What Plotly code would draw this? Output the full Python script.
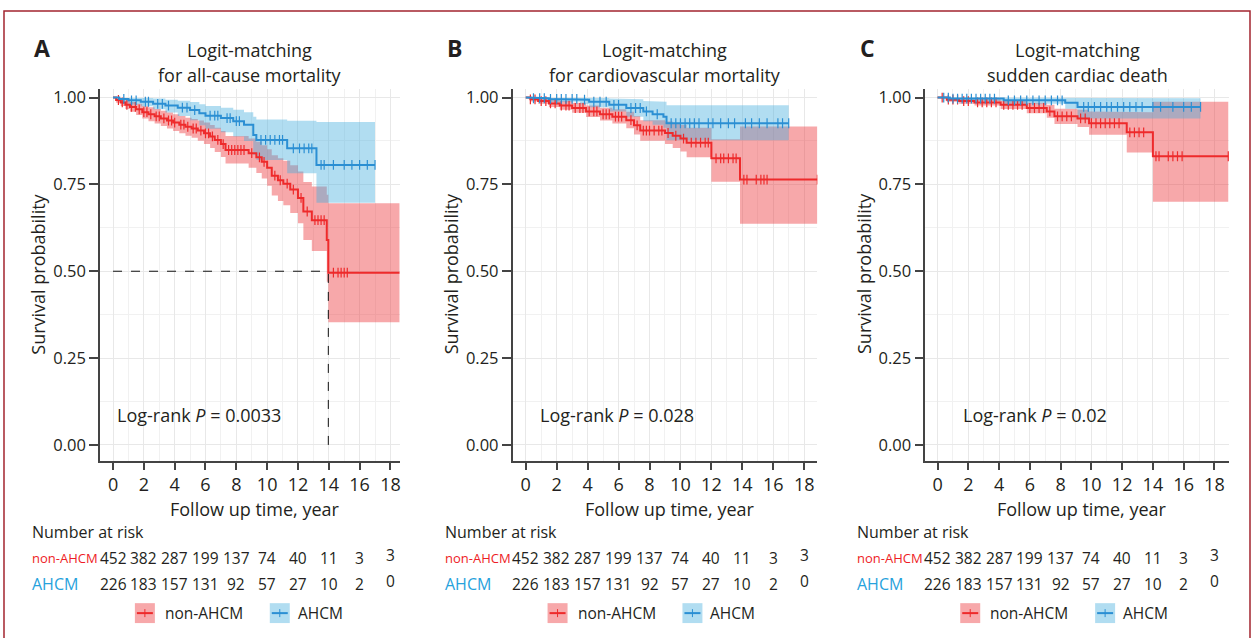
import plotly.graph_objects as go

W, H = 1253, 638

# ---------------- data ----------------
# Panel A: all-cause mortality
a_non_t  = [0, 0.2, 0.5, 0.8, 1.1, 1.5, 1.9, 2.3, 2.7, 3.1, 3.5, 3.9, 4.3, 4.7, 5.1, 5.5, 5.9, 6.3, 6.6, 7.0,
            7.3, 8.8, 9.3, 9.65, 10.0, 10.3, 10.7, 11.05, 11.5, 12.0, 12.35, 12.9, 13.87, 13.97]
a_non_s  = [1.0, 0.993, 0.986, 0.979, 0.973, 0.966, 0.958, 0.952, 0.946, 0.940, 0.934, 0.928, 0.922, 0.916, 0.911,
            0.905, 0.897, 0.888, 0.878, 0.866, 0.849, 0.840, 0.828, 0.815, 0.798, 0.775, 0.762, 0.752, 0.735, 0.711,
            0.672, 0.647, 0.590, 0.496]
a_non_lo = [1.0, 0.985, 0.976, 0.967, 0.959, 0.950, 0.940, 0.932, 0.925, 0.918, 0.911, 0.904, 0.897, 0.890, 0.884,
            0.876, 0.866, 0.855, 0.843, 0.829, 0.810, 0.798, 0.783, 0.767, 0.746, 0.718, 0.702, 0.690, 0.668, 0.638,
            0.590, 0.558, 0.470, 0.353]
a_non_hi = [1.0, 1.0, 0.996, 0.991, 0.987, 0.982, 0.976, 0.972, 0.967, 0.962, 0.957, 0.952, 0.947, 0.942, 0.938,
            0.934, 0.928, 0.921, 0.913, 0.904, 0.889, 0.882, 0.873, 0.863, 0.851, 0.834, 0.825, 0.818, 0.805, 0.787,
            0.757, 0.744, 0.720, 0.696]
a_non_end = 18.6
a_non_cens = [0.35, 0.6, 0.9, 1.2, 1.45, 1.7, 2.0, 2.2, 2.45, 2.8, 3.0, 3.3, 3.6, 3.8, 4.0, 4.4, 4.6, 4.85, 5.2,
              5.4, 5.7, 6.0, 6.2, 6.45, 6.8, 7.15, 7.5, 7.7, 7.9, 8.1, 8.3, 8.5, 9.0, 9.5, 9.8, 10.5, 10.85, 11.3,
              11.7, 12.2, 12.6, 13.1, 13.3, 13.5, 13.7, 14.3, 14.6, 14.8, 15.0, 15.2]

a_ah_t  = [0, 0.4, 1.0, 1.8, 2.6, 3.4, 4.2, 5.0, 5.6, 6.0, 7.0, 7.8, 8.5, 9.1, 9.3, 11.3, 13.2]
a_ah_s  = [1.0, 0.996, 0.992, 0.988, 0.982, 0.977, 0.971, 0.964, 0.955, 0.948, 0.941, 0.932, 0.922, 0.892, 0.878,
           0.854, 0.806]
a_ah_lo = [1.0, 0.988, 0.981, 0.975, 0.966, 0.957, 0.947, 0.935, 0.920, 0.910, 0.900, 0.888, 0.875, 0.835, 0.820,
           0.782, 0.697]
a_ah_hi = [1.0, 1.0, 1.0, 0.999, 0.997, 0.994, 0.991, 0.987, 0.981, 0.976, 0.971, 0.965, 0.958, 0.945, 0.937,
           0.933, 0.930]
a_ah_end = 17.0
a_ah_cens = [0.7, 1.2, 1.5, 2.1, 2.3, 2.9, 3.2, 3.6, 4.5, 4.8, 5.3, 6.3, 6.6, 6.8, 7.4, 7.6, 8.0, 8.2, 9.6, 9.9,
             10.2, 10.5, 10.8, 11.0, 11.7, 12.1, 12.4, 12.7, 12.9, 13.5, 13.7, 14.3, 15.0, 15.5, 16.0, 16.5, 17.0]

# Panel B: cardiovascular mortality
b_non_t  = [0, 0.3, 0.8, 1.5, 2.2, 3.0, 3.9, 4.8, 5.6, 6.5, 7.0, 7.4, 9.0, 9.5, 10.0, 10.4, 12.0, 13.85]
b_non_s  = [1.0, 0.995, 0.990, 0.983, 0.977, 0.970, 0.960, 0.952, 0.945, 0.935, 0.920, 0.905, 0.898, 0.890, 0.882,
            0.870, 0.825, 0.764]
b_non_lo = [1.0, 0.989, 0.982, 0.973, 0.965, 0.956, 0.944, 0.934, 0.925, 0.912, 0.894, 0.876, 0.866, 0.855, 0.845,
            0.828, 0.758, 0.637]
b_non_hi = [1.0, 1.0, 0.998, 0.994, 0.990, 0.985, 0.977, 0.971, 0.966, 0.959, 0.947, 0.935, 0.931, 0.926, 0.921,
            0.913, 0.880, 0.917]
b_non_end = 18.85
b_non_cens = [0.3, 0.6, 1.0, 1.3, 1.6, 1.9, 2.3, 2.6, 2.8, 3.2, 3.5, 3.7, 4.1, 4.4, 4.6, 5.0, 5.2, 5.4, 5.8, 6.0,
              6.2, 6.8, 7.2, 7.6, 7.8, 8.0, 8.3, 8.6, 8.8, 9.2, 9.7, 10.2, 10.7, 11.0, 11.3, 11.6, 11.8, 12.3,
              12.6, 12.8, 13.1, 13.4, 13.6, 14.1, 14.3, 14.9, 15.2, 15.4, 15.6, 18.85]

b_ah_t  = [0, 0.5, 1.5, 3.5, 4.1, 5.4, 6.5, 7.6, 8.2, 8.9, 9.1]
b_ah_s  = [1.0, 0.998, 0.996, 0.994, 0.988, 0.979, 0.970, 0.960, 0.952, 0.945, 0.926]
b_ah_lo = [1.0, 0.993, 0.988, 0.981, 0.972, 0.960, 0.945, 0.932, 0.922, 0.913, 0.877]
b_ah_hi = [1.0, 1.0, 1.0, 1.0, 0.999, 0.997, 0.995, 0.990, 0.989, 0.988, 0.978]
b_ah_end = 17.0
b_ah_cens = [0.5, 0.9, 1.2, 1.6, 2.0, 2.3, 2.6, 3.0, 3.3, 3.8, 4.4, 4.8, 5.2, 5.7, 6.0, 6.8, 7.1, 7.4, 7.8, 8.5,
             9.4, 9.7, 10.0, 10.3, 10.6, 10.9, 11.2, 11.8, 12.1, 12.6, 13.1, 13.5, 14.2, 14.6, 15.1, 15.6, 16.3,
             16.6, 17.0]

# Panel C: sudden cardiac death
c_non_t  = [0, 0.6, 1.4, 2.4, 4.1, 5.8, 7.1, 7.6, 9.1, 9.85, 12.3, 14.0]
c_non_s  = [1.0, 0.994, 0.990, 0.986, 0.979, 0.970, 0.960, 0.946, 0.940, 0.926, 0.900, 0.831]
c_non_lo = [1.0, 0.988, 0.982, 0.977, 0.967, 0.955, 0.942, 0.924, 0.915, 0.893, 0.842, 0.700]
c_non_hi = [1.0, 1.0, 0.998, 0.995, 0.991, 0.985, 0.979, 0.968, 0.965, 0.960, 0.958, 0.988]
c_non_end = 18.9
c_non_cens = [0.3, 0.7, 1.0, 1.3, 1.7, 2.0, 2.6, 2.9, 3.2, 3.5, 3.8, 4.3, 4.6, 4.9, 5.2, 5.5, 6.0, 6.3, 6.6, 6.9,
              7.3, 7.8, 8.1, 8.4, 8.7, 9.3, 9.6, 10.0, 10.3, 10.6, 10.9, 11.2, 11.5, 11.8, 12.5, 12.8, 13.1,
              13.4, 14.2, 14.4, 15.0, 15.3, 15.6, 15.9, 18.9]

c_ah_t  = [0, 0.8, 4.3, 8.3, 9.1]
c_ah_s  = [1.0, 0.997, 0.992, 0.985, 0.973]
c_ah_lo = [1.0, 0.990, 0.982, 0.968, 0.940]
c_ah_hi = [1.0, 1.0, 1.0, 0.999, 0.998]
c_ah_end = 17.1
c_ah_cens = [0.4, 0.7, 1.0, 1.3, 1.6, 1.9, 2.2, 2.5, 2.8, 3.1, 3.4, 3.7, 4.6, 5.0, 5.4, 5.8, 6.2, 6.6, 7.0, 7.4,
             7.8, 8.1, 9.5, 9.8, 10.2, 10.6, 11.0, 11.3, 11.7, 12.1, 12.5, 12.9, 13.3, 14.0, 14.5, 15.3, 16.0,
             16.5, 17.1]

# Number at risk (same in all panels)
risk_times = [0, 2, 4, 6, 8, 10, 12, 14, 16, 18]
risk_non = [452, 382, 287, 199, 137, 74, 40, 11, 3, 3]
risk_ahcm = [226, 183, 157, 131, 92, 57, 27, 10, 2, 0]

letters = ["A", "B", "C"]
titles_1 = ["Logit-matching", "Logit-matching", "Logit-matching"]
titles_2 = ["for all-cause mortality", "for cardiovascular mortality", "sudden cardiac death"]
p_values = ["0.0033", "0.028", "0.02"]
y_ticks = [0, 0.25, 0.5, 0.75, 1.0]
x_ticks = [0, 2, 4, 6, 8, 10, 12, 14, 16, 18]

series = [
    dict(non=(a_non_t, a_non_s, a_non_lo, a_non_hi, a_non_end, a_non_cens),
         ah=(a_ah_t, a_ah_s, a_ah_lo, a_ah_hi, a_ah_end, a_ah_cens), median=True),
    dict(non=(b_non_t, b_non_s, b_non_lo, b_non_hi, b_non_end, b_non_cens),
         ah=(b_ah_t, b_ah_s, b_ah_lo, b_ah_hi, b_ah_end, b_ah_cens), median=False),
    dict(non=(c_non_t, c_non_s, c_non_lo, c_non_hi, c_non_end, c_non_cens),
         ah=(c_ah_t, c_ah_s, c_ah_lo, c_ah_hi, c_ah_end, c_ah_cens), median=False),
]

# ---------------- style / layout ----------------
FONT = "Open Sans"
TXT = "#231f20"
RED = "#ee2a2b"
BLUE = "#2b8fd3"
RED_FILL = "rgba(236,58,62,0.44)"
BLUE_FILL = "rgba(70,175,222,0.42)"
RED_LBL = "#ee1c25"
BLUE_LBL = "#27a2dc"

panel_left = [100, 513, 926]
panel_right = [400, 818, 1230]
x_ranges = [[-0.85, 18.6], [-0.85, 18.85], [-0.8, 18.95]]
logrank_dx = [15, 25, 36]
PLOT_TOP, PLOT_BOT = 86, 460
y_range = [-0.0458, 1.0258]


def px(X):
    return X / W


def py(Y):
    return 1 - Y / H


def step_xy(t, v, end):
    xs, ys = [], []
    for i in range(len(t)):
        nxt = t[i + 1] if i + 1 < len(t) else end
        xs += [t[i], nxt]
        ys += [v[i], v[i]]
    return xs, ys


def surv_at(t, s, c):
    val = s[0]
    for ti, si in zip(t, s):
        if ti <= c:
            val = si
    return val


fig = go.Figure()
annotations = []
shapes = []

for k in range(3):
    xa = "x" if k == 0 else f"x{k+1}"
    ya = "y" if k == 0 else f"y{k+1}"
    sd = series[k]
    # bands
    for key, fc in (("non", RED_FILL), ("ah", BLUE_FILL)):
        t, s, lo, hi, end, cens = sd[key]
        ux, uy = step_xy(t, hi, end)
        lx, ly = step_xy(t, lo, end)
        fig.add_trace(go.Scatter(x=ux + lx[::-1], y=uy + ly[::-1], fill="toself", fillcolor=fc,
                                 line=dict(width=0), mode="lines", hoverinfo="skip", showlegend=False,
                                 xaxis=xa, yaxis=ya))
    # lines + censor marks
    for key, lc in (("non", RED), ("ah", BLUE)):
        t, s, lo, hi, end, cens = sd[key]
        sx, sy = step_xy(t, s, end)
        fig.add_trace(go.Scatter(x=sx, y=sy, mode="lines", line=dict(color=lc, width=2),
                                 hoverinfo="skip", showlegend=False, xaxis=xa, yaxis=ya))
        fig.add_trace(go.Scatter(x=cens, y=[surv_at(t, s, c) for c in cens], mode="markers",
                                 marker=dict(symbol="line-ns", size=7, line=dict(color=lc, width=1.2)),
                                 hoverinfo="skip", showlegend=False, xaxis=xa, yaxis=ya))
    # median dashed lines
    if sd["median"]:
        t, s = sd["non"][0], sd["non"][1]
        med = next(ti for ti, si in zip(t, s) if si <= 0.5)
        shapes.append(dict(type="line", xref=xa, yref=ya, x0=0, x1=med, y0=0.5, y1=0.5,
                           line=dict(color="#111", width=1, dash="dash"), layer="above"))
        shapes.append(dict(type="line", xref=xa, yref=ya, x0=med, x1=med, y0=0, y1=0.5,
                           line=dict(color="#111", width=1, dash="dash"), layer="above"))

    L, R = panel_left[k], panel_right[k]
    cx = (L + R) / 2
    # letter and titles
    annotations.append(dict(text=f"<b>{letters[k]}</b>", x=px(L - 58), y=py(45), xref="paper", yref="paper",
                            showarrow=False, font=dict(size=23, family=FONT, color=TXT),
                            xanchor="center", yanchor="middle"))
    annotations.append(dict(text=titles_1[k], x=px(cx), y=py(47), xref="paper", yref="paper",
                            showarrow=False, font=dict(size=18, family=FONT, color=TXT),
                            xanchor="center", yanchor="middle"))
    annotations.append(dict(text=titles_2[k], x=px(cx), y=py(72), xref="paper", yref="paper",
                            showarrow=False, font=dict(size=18, family=FONT, color=TXT),
                            xanchor="center", yanchor="middle"))
    # axis titles
    annotations.append(dict(text="Survival probability", x=px(L - 62), y=py(272), xref="paper", yref="paper",
                            showarrow=False, textangle=-90, font=dict(size=18, family=FONT, color=TXT),
                            xanchor="center", yanchor="middle"))
    annotations.append(dict(text="Follow up time, year", x=px(cx + 5), y=py(508), xref="paper", yref="paper",
                            showarrow=False, font=dict(size=18, family=FONT, color=TXT),
                            xanchor="center", yanchor="middle"))
    # log-rank
    annotations.append(dict(text=f"Log-rank <i>P</i> = {p_values[k]}", x=px(L + logrank_dx[k]), y=py(414),
                            xref="paper", yref="paper", showarrow=False,
                            font=dict(size=18, family=FONT, color=TXT), xanchor="left", yanchor="middle"))
    # risk table
    annotations.append(dict(text="Number at risk", x=px(L - 70), y=py(532), xref="paper", yref="paper",
                            showarrow=False, font=dict(size=16, family=FONT, color=TXT),
                            xanchor="left", yanchor="middle"))
    annotations.append(dict(text="non-AHCM", x=px(L - 70), y=py(558), xref="paper", yref="paper",
                            showarrow=False, font=dict(size=13, family=FONT, color=RED_LBL),
                            xanchor="left", yanchor="middle"))
    annotations.append(dict(text="AHCM", x=px(L - 70), y=py(584), xref="paper", yref="paper",
                            showarrow=False, font=dict(size=16, family=FONT, color=BLUE_LBL),
                            xanchor="left", yanchor="middle"))
    for j, (tt, n1, n2) in enumerate(zip(risk_times, risk_non, risk_ahcm)):
        shift = 3 if j == len(risk_times) - 1 else 0
        annotations.append(dict(text=str(n1), x=tt, y=py(558), xref=xa, yref="paper", showarrow=False,
                                yshift=shift, font=dict(size=15.5, family=FONT, color=TXT),
                                xanchor="center", yanchor="middle"))
        annotations.append(dict(text=str(n2), x=tt, y=py(584), xref=xa, yref="paper", showarrow=False,
                                yshift=shift, font=dict(size=15.5, family=FONT, color=TXT),
                                xanchor="center", yanchor="middle"))
    # legend
    for (sq0, txt_x, fc, lc, label) in ((L + 35, L + 63, RED_FILL, RED, "non-AHCM"),
                                        (L + 170, L + 196, BLUE_FILL, BLUE, "AHCM")):
        shapes.append(dict(type="rect", xref="paper", yref="paper", x0=px(sq0), x1=px(sq0 + 20),
                           y0=py(623), y1=py(603), fillcolor=fc, line=dict(width=0)))
        shapes.append(dict(type="line", xref="paper", yref="paper", x0=px(sq0 + 2), x1=px(sq0 + 18),
                           y0=py(613), y1=py(613), line=dict(color=lc, width=2)))
        shapes.append(dict(type="line", xref="paper", yref="paper", x0=px(sq0 + 10), x1=px(sq0 + 10),
                           y0=py(617), y1=py(609), line=dict(color=lc, width=1)))
        annotations.append(dict(text=label, x=px(txt_x), y=py(613), xref="paper", yref="paper",
                                showarrow=False, font=dict(size=15.5, family=FONT, color=TXT),
                                xanchor="left", yanchor="middle"))

# outer frame
shapes.append(dict(type="rect", xref="paper", yref="paper", x0=px(4), x1=px(1251), y0=py(660), y1=py(8),
                   line=dict(color="#a3252f", width=1.5), fillcolor="rgba(0,0,0,0)"))

layout = dict(width=W, height=H, margin=dict(l=0, r=0, t=0, b=0), paper_bgcolor="white",
              plot_bgcolor="white", showlegend=False, annotations=annotations, shapes=shapes,
              font=dict(family=FONT, color=TXT))

for k in range(3):
    xname = "xaxis" if k == 0 else f"xaxis{k+1}"
    yname = "yaxis" if k == 0 else f"yaxis{k+1}"
    xa = "x" if k == 0 else f"x{k+1}"
    ya = "y" if k == 0 else f"y{k+1}"
    layout[xname] = dict(domain=[px(panel_left[k]), px(panel_right[k])], range=x_ranges[k], anchor=ya,
                         tickvals=x_ticks, ticks="outside", ticklen=7, tickwidth=1.5, tickcolor="#444",
                         showline=True, linecolor="#444", linewidth=1.5, zeroline=False,
                         showgrid=True, gridcolor="#e8e8e8", gridwidth=1,
                         minor=dict(dtick=1, tick0=0, showgrid=True, gridcolor="#f1f1f1", gridwidth=1),
                         tickfont=dict(size=18, family=FONT, color=TXT), fixedrange=True)
    layout[yname] = dict(domain=[py(PLOT_BOT), py(PLOT_TOP)], range=y_range, anchor=xa,
                         tickvals=y_ticks, tickformat=".2f", ticks="outside", ticklen=9, tickwidth=1.5,
                         tickcolor="#444", showline=True, linecolor="#444", linewidth=1.5, zeroline=False,
                         showgrid=True, gridcolor="#e8e8e8", gridwidth=1,
                         minor=dict(dtick=0.125, tick0=0, showgrid=True, gridcolor="#f1f1f1", gridwidth=1),
                         tickfont=dict(size=16.5, family=FONT, color=TXT), fixedrange=True)

fig.update_layout(**layout)
fig.write_html("out.html", config={"displayModeBar": False},
               post_script="document.body.style.margin='0';document.body.style.padding='0';"
                           "document.body.style.overflow='hidden';")
